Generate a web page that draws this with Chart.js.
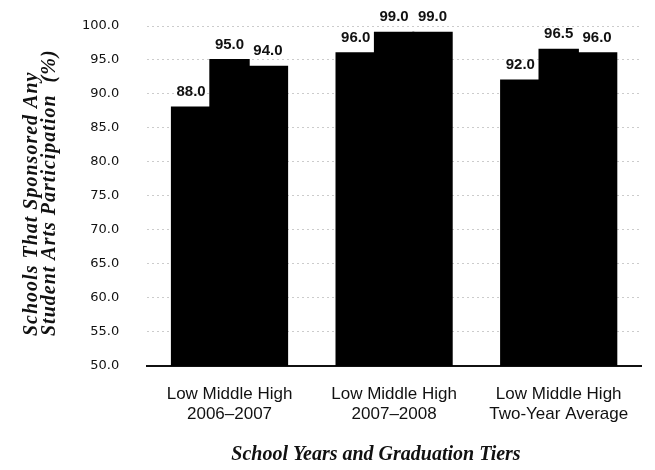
<!DOCTYPE html>
<html>
<head>
<meta charset="utf-8">
<script src="https://cdn.jsdelivr.net/npm/chart.js@4"></script>
<style>
  html, body { margin: 0; padding: 0; background: #fff; }
  #wrap { width: 655px; height: 470px; position: relative; }
</style>
</head>
<body>
<div id="wrap"><canvas id="c" width="655" height="470"></canvas></div>
<script>
// School-year groups, each split into graduation tiers
const groups = [
  ["Low Middle High", "2006\u20132007"],
  ["Low Middle High", "2007\u20132008"],
  ["Low Middle High", "Two-Year Average"]
];
const tiers = ["Low", "Middle", "High"];
const lowValues = [88.0, 96.0, 92.0];
const middleValues = [95.0, 99.0, 96.5];
const highValues = [94.0, 99.0, 96.0];
const yTicks = [50, 55, 60, 65, 70, 75, 80, 85, 90, 95, 100];

const yTitleLines = ["Schools That Sponsored Any", "Student Arts Participation  (%)"];
const xTitle = "School Years and Graduation Tiers";

// Value labels above every bar, plus the two axis titles
const annotate = {
  id: "annotate",
  afterDatasetsDraw(chart) {
    const ctx = chart.ctx;
    ctx.save();
    ctx.fillStyle = "#111";
    ctx.font = "bold 15px 'Liberation Sans', Arial, sans-serif";
    ctx.textAlign = "center";
    ctx.textBaseline = "bottom";
    chart.data.datasets.forEach((ds, i) => {
      chart.getDatasetMeta(i).data.forEach((bar, j) => {
        ctx.fillText(ds.data[j].toFixed(1), bar.x, bar.y - 8);
      });
    });
    ctx.restore();
  },
  afterDraw(chart) {
    const ctx = chart.ctx;
    ctx.save();
    ctx.fillStyle = "#111";
    ctx.font = "bold italic 20px 'Liberation Serif', 'DejaVu Serif', serif";
    ctx.textAlign = "center";
    ctx.textBaseline = "alphabetic";
    ctx.fillText(xTitle, 376, 460);
    ctx.rotate(-Math.PI / 2);
    ctx.textAlign = "left";
    ctx.letterSpacing = "1px";
    ctx.fillText(yTitleLines[0], -336, 37);
    ctx.fillText(yTitleLines[1], -336, 55);
    ctx.restore();
  }
};

new Chart(document.getElementById("c"), {
  type: "bar",
  data: {
    labels: groups,
    datasets: [
      { label: tiers[0], data: lowValues, backgroundColor: "#000" },
      { label: tiers[1], data: middleValues, backgroundColor: "#000" },
      { label: tiers[2], data: highValues, backgroundColor: "#000" }
    ]
  },
  options: {
    responsive: false,
    animation: false,
    devicePixelRatio: 1,
    categoryPercentage: 0.7,
    barPercentage: 1.0,
    datasets: { bar: { borderWidth: 0, inflateAmount: 1 } },
    layout: { padding: { left: 54, right: 14, top: 26, bottom: 27 } },
    plugins: { legend: { display: false }, tooltip: { enabled: false } },
    scales: {
      x: {
        grid: { display: false, drawTicks: false },
        border: { display: true, color: "#111", width: 2 },
        ticks: {
          color: "#111",
          font: { family: "'Liberation Sans', Arial, sans-serif", size: 17, lineHeight: 1.15 },
          padding: 19,
          maxRotation: 0
        }
      },
      y: {
        min: 50,
        max: 100,
        afterBuildTicks(scale) { scale.ticks = yTicks.map(v => ({ value: v })); },
        // the wide tick gap should not push the plot down from the top
        afterFit(scale) { scale.paddingTop = 0; scale.paddingBottom = 0; },
        grid: { color: "#ccc", lineWidth: 1, drawTicks: false },
        border: { display: false, dash: [2, 3] },
        ticks: {
          color: "#111",
          font: { family: "'DejaVu Sans', sans-serif", size: 13 },
          padding: 28,
          callback: v => Number(v).toFixed(1)
        }
      }
    }
  },
  plugins: [annotate]
});
</script>
</body>
</html>
